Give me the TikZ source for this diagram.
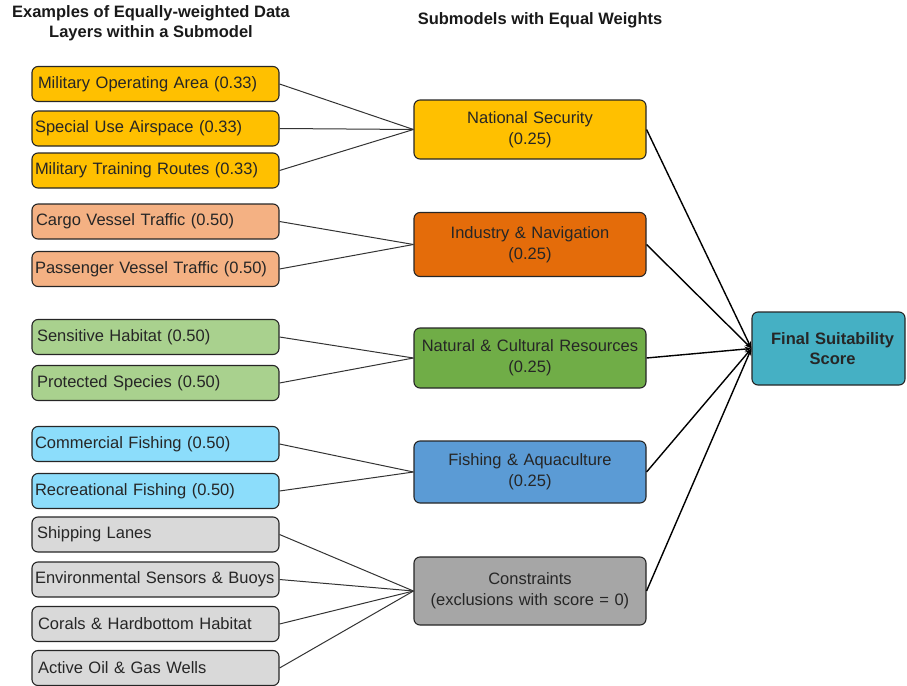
\documentclass[tikz,border=0pt]{standalone}
\usepackage{fontspec}
\setmainfont{Liberation Sans}
\usetikzlibrary{arrows.meta}
\definecolor{cYel}{HTML}{FFC000}
\definecolor{cSal}{HTML}{F4B183}
\definecolor{cOra}{HTML}{E46C0A}
\definecolor{cLGr}{HTML}{A9D18E}
\definecolor{cGrn}{HTML}{70AD47}
\definecolor{cLBl}{HTML}{8CDDFB}
\definecolor{cBlu}{HTML}{5B9BD5}
\definecolor{cLGy}{HTML}{D9D9D9}
\definecolor{cGry}{HTML}{A6A6A6}
\definecolor{cTea}{HTML}{45B0C4}
\definecolor{cTxt}{HTML}{262626}
\begin{document}
\begin{tikzpicture}[x=1pt,y=-1pt,
  every node/.style={font=\fontsize{16.5}{20}\selectfont, text=cTxt},
  boxbase/.style={draw=black!85, line width=1.1pt, rounded corners=6pt},
  leaf/.style={boxbase, minimum width=247pt, minimum height=35pt, text width=241pt, inner xsep=3pt, align=left},
  sub/.style={boxbase, minimum width=232pt, text width=226pt, inner xsep=3pt, align=center, font=\fontsize{16.5}{21}\selectfont},
  ttl/.style={font=\bfseries\fontsize{16.5}{20}\selectfont, text=black!90, align=center},
  link/.style={draw=black!80, line width=1pt},
  flink/.style={draw=black, line width=1.4pt, -{Stealth[length=7pt,width=5pt]}}
]
\useasboundingbox (0,0) rectangle (907,685);

\node[ttl] (t1) at (151,23) {Examples of Equally-weighted Data\\Layers within a Submodel};
\node[ttl] (t2) at (540,20) {Submodels with Equal Weights};

% leaves
\node[leaf, fill=cYel] (l1) at (155.5,84) {\hspace*{3pt}Military Operating Area (0.33)};
\node[leaf, fill=cYel] (l2) at (155.5,128.5) {Special Use Airspace (0.33)};
\node[leaf, fill=cYel] (l3) at (155.5,170.5) {Military Training Routes (0.33)};
\node[leaf, fill=cSal] (l4) at (155.5,221.5) {\hspace*{1pt}Cargo Vessel Traffic (0.50)};
\node[leaf, fill=cSal] (l5) at (155.5,269) {Passenger Vessel Traffic (0.50)};
\node[leaf, fill=cLGr] (l6) at (155.5,337) {\hspace*{2pt}Sensitive Habitat (0.50)};
\node[leaf, fill=cLGr] (l7) at (155.5,383) {\hspace*{2pt}Protected Species (0.50)};
\node[leaf, fill=cLBl] (l8) at (155.5,444) {Commercial Fishing (0.50)};
\node[leaf, fill=cLBl] (l9) at (155.5,491) {Recreational Fishing (0.50)};
\node[leaf, fill=cLGy] (l10) at (155.5,534.5) {\hspace*{2pt}Shipping Lanes};
\node[leaf, fill=cLGy] (l11) at (155.5,579.5) {Environmental Sensors \& Buoys};
\node[leaf, fill=cLGy] (l12) at (155.5,624) {\hspace*{3pt}Corals \& Hardbottom Habitat};
\node[leaf, fill=cLGy] (l13) at (155.5,668) {\hspace*{3pt}Active Oil \& Gas Wells};

% submodels
\node[sub, fill=cYel, minimum height=59pt] (s1) at (530,129.5) {\raisebox{-3pt}{National Security}\\\raisebox{-3pt}{(0.25)}};
\node[sub, fill=cOra, minimum height=64pt] (s2) at (530,244.5) {\raisebox{-3pt}{Industry \& Navigation}\\\raisebox{-3pt}{(0.25)}};
\node[sub, fill=cGrn, minimum height=60pt] (s3) at (530,358) {Natural \& Cultural Resources\\(0.25)};
\node[sub, fill=cBlu, minimum height=62pt] (s4) at (530,472) {\raisebox{-2pt}{Fishing \& Aquaculture}\\\raisebox{-2pt}{(0.25)}};
\node[sub, fill=cGry, minimum height=68pt] (s5) at (530,591) {Constraints\\(exclusions with score = 0)};

% final
\node[boxbase, fill=cTea, minimum width=153pt, minimum height=73pt, text width=147pt, inner xsep=3pt, align=center, font=\bfseries\fontsize{16.5}{20}\selectfont, text=black!85] (f) at (828.5,348.5) {\hspace*{8pt}Final Suitability\\\hspace*{8pt}Score};

% links
\foreach \l in {l1,l2,l3} \draw[link] (\l.east) -- (s1.west);
\foreach \l in {l4,l5} \draw[link] (\l.east) -- (s2.west);
\foreach \l in {l6,l7} \draw[link] (\l.east) -- (s3.west);
\foreach \l in {l8,l9} \draw[link] (\l.east) -- (s4.west);
\foreach \l in {l10,l11,l12,l13} \draw[link] (\l.east) -- (s5.west);
\foreach \s in {s1,s2,s3,s4,s5} \draw[flink] (\s.east) -- (f.west);
\end{tikzpicture}
\end{document}
